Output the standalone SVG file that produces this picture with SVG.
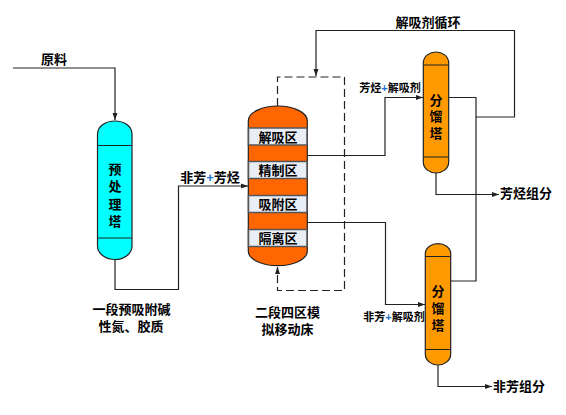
<svg xmlns="http://www.w3.org/2000/svg" width="566" height="415" viewBox="0 0 566 415">
<style>
.t{font-family:"Liberation Sans","Noto Sans CJK SC",sans-serif;font-weight:700;font-size:13px;fill:#000;text-anchor:middle}
.s{font-size:11px}
.l{fill:none;stroke:#222;stroke-width:1.2}
.d{fill:none;stroke:#222;stroke-width:1.2;stroke-dasharray:8 4}
.sh{stroke:#222;stroke-width:1.2}
.z{fill:#e8edf6;stroke:#555;stroke-width:1.5}
.p{fill:#1f6fd0}
</style>
<defs>
<marker id="a" markerWidth="8" markerHeight="6" refX="7" refY="3" orient="auto" markerUnits="userSpaceOnUse"><path d="M0 0.5L7 3L0 5.500z" fill="#222"/></marker>
</defs>
<rect width="566" height="415" fill="#fff"/>
<g id="connectors">
<path class="l" d="M13 68H115V120" marker-end="url(#a)"/>
<path class="l" d="M115 259V289.500H178.500V186H248" marker-end="url(#a)"/>
<path class="l" d="M307 155.500H385V97.500H423" marker-end="url(#a)"/>
<path class="l" d="M307 222.500H385.500V304.500H425" marker-end="url(#a)"/>
<path class="l" d="M449 97.500H476V281H451"/>
<path class="l" d="M476 117H514.500V30.500H316V76" marker-end="url(#a)"/>
<path class="l" d="M436 173V194.500H499" marker-end="url(#a)"/>
<path class="l" d="M438 365V386.500H492" marker-end="url(#a)"/>
<path class="d" d="M277.500 106V77H344.500V290.500H277.500V268"/>
<path class="l" d="M277.500 272V267" marker-end="url(#a)"/>
</g>
<g id="pretreat-tower">
<path class="sh" fill="#00ffff" d="M97.500 134C97.500 126 106 121 115 121S132 126 132 134V246C132 254 124 259.500 115 259.500S97.500 254 97.500 246Z"/>
<path class="sh" d="M97.500 145.500H132M97.500 238H132"/>
<text class="t"><tspan x="115" y="174">预</tspan><tspan x="115" y="191">处</tspan><tspan x="115" y="209">理</tspan><tspan x="115" y="226">塔</tspan></text>
</g>
<g id="main-tower">
<path class="sh" fill="#ff6600" d="M248.300 121C248.300 112 263 106 277.800 106S307.300 112 307.300 121V251C307.300 260 292 265.700 277.800 265.700S248.300 260 248.300 251Z"/>
<rect class="z" x="248.500" y="128" width="58.500" height="17"/>
<rect class="z" x="248.500" y="161.500" width="58.500" height="17"/>
<rect class="z" x="248.500" y="195.500" width="58.500" height="17"/>
<rect class="z" x="248.500" y="229.500" width="58.500" height="17"/>
<text class="t" x="278" y="141.500">解吸区</text>
<text class="t" x="278" y="175">精制区</text>
<text class="t" x="278" y="208.500">吸附区</text>
<text class="t" x="278" y="243">隔离区</text>
</g>
<g id="fractionator-1">
<path class="sh" fill="#ff9900" d="M423.300 63C423.300 56 430 52 436 52S448.700 56 448.700 63V162C448.700 169 442 173 436 173S423.300 169 423.300 162Z"/>
<path class="sh" d="M423.300 65H448.700M423.300 157H448.700"/>
<text class="t"><tspan x="436" y="104.500">分</tspan><tspan x="436" y="121">馏</tspan><tspan x="436" y="138">塔</tspan></text>
</g>
<g id="fractionator-2">
<path class="sh" fill="#ff9900" d="M425.300 254C425.300 247 432 243.700 438 243.700S450.700 247 450.700 254V354C450.700 361 444 365 438 365S425.300 361 425.300 354Z"/>
<path class="sh" d="M425.300 256.500H450.700M425.300 349.500H450.700"/>
<text class="t"><tspan x="438" y="296">分</tspan><tspan x="438" y="312.500">馏</tspan><tspan x="438" y="329.500">塔</tspan></text>
</g>
<g id="labels">
<text class="t" x="54" y="64">原料</text>
<text class="t" x="210" y="182">非芳<tspan class="p">+</tspan>芳烃</text>
<text class="t"><tspan x="131.500" y="314">一段预吸附碱</tspan><tspan x="131" y="331">性氮、胶质</tspan></text>
<text class="t"><tspan x="287.500" y="317">二段四区模</tspan><tspan x="287.500" y="334">拟移动床</tspan></text>
<text class="t" x="428" y="27">解吸剂循环</text>
<text class="t s" x="390" y="92">芳烃<tspan class="p">+</tspan>解吸剂</text>
<text class="t s" x="394" y="321">非芳<tspan class="p">+</tspan>解吸剂</text>
<text class="t" x="526" y="198">芳烃组分</text>
<text class="t" x="519" y="391">非芳组分</text>
</g>
</svg>
